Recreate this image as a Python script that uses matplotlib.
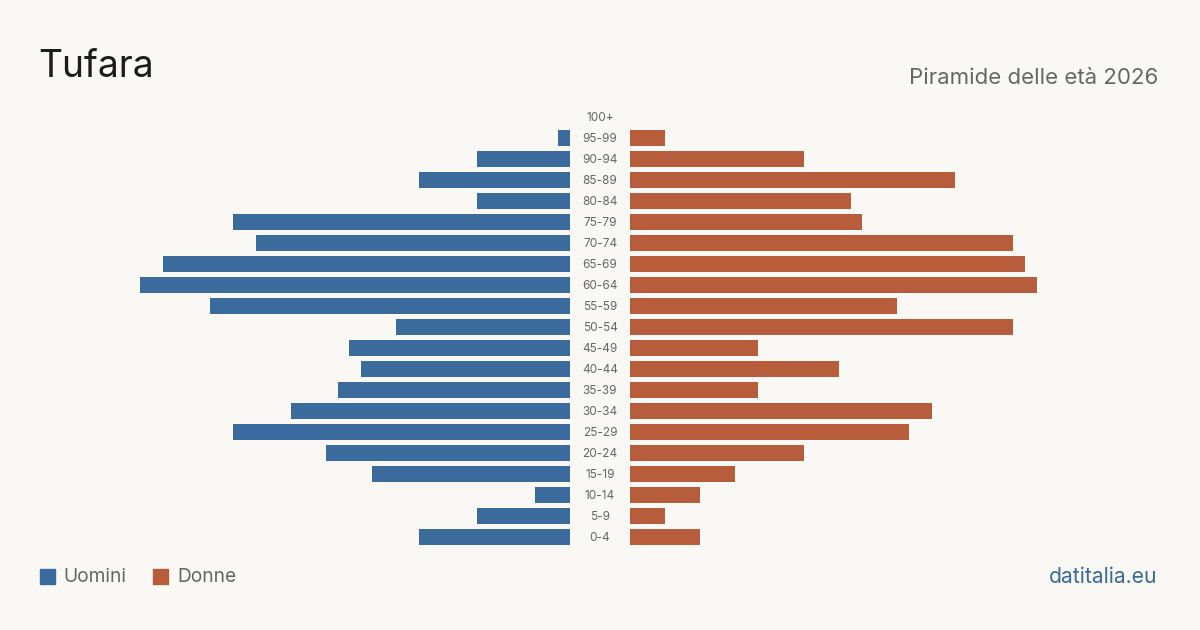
import matplotlib
matplotlib.use("Agg")
import matplotlib.pyplot as plt
from matplotlib.patches import Rectangle

# age groups from youngest to oldest
age_groups = ["0-4", "5-9", "10-14", "15-19", "20-24", "25-29", "30-34", "35-39",
              "40-44", "45-49", "50-54", "55-59", "60-64", "65-69", "70-74",
              "75-79", "80-84", "85-89", "90-94", "95-99", "100+"]
uomini = [13, 8, 3, 17, 21, 29, 24, 20, 18, 19, 15, 31, 37, 35, 27, 29, 8, 13, 8, 1, 0]
donne = [6, 3, 6, 9, 15, 24, 26, 11, 18, 11, 33, 23, 35, 34, 33, 20, 19, 28, 15, 3, 0]

BG = "#f9f8f4"
BLUE = "#3a6b9c"
ORANGE = "#b85d3c"
GRAY = "#666666"

plt.rcParams['font.family'] = ['Inter', 'DejaVu Sans']

fig = plt.figure(figsize=(12, 6.3), dpi=100)
fig.patch.set_facecolor(BG)
ax = fig.add_axes([0, 0, 1, 1])
ax.set_facecolor(BG)

px = 11.62  # pixels per person
gap = 30 / px
ax.set_xlim(-600 / px, 600 / px)
ax.set_ylim(-93 / 21, (630 - 93) / 21)
ax.axis("off")

y = list(range(len(age_groups)))
ax.barh(y, [-v for v in uomini], left=-gap, height=0.78, color=BLUE)
ax.barh(y, donne, left=gap, height=0.78, color=ORANGE)
for i, lab in enumerate(age_groups):
    ax.text(0, i - 0.06, lab, ha="center", va="center", fontsize=8.5, color=GRAY)

fig.text(38 / 1200, 1 - 67 / 630, "Tufara", fontsize=26.8, color="#1c1c1c",
         ha="left", va="center")
fig.text(1158 / 1200, 1 - 78 / 630, "Piramide delle età 2026", fontsize=16,
         color=GRAY, ha="right", va="center")

# legend
fig.patches.append(Rectangle((40 / 1200, 1 - 584 / 630), 15 / 1200, 15 / 630,
                             transform=fig.transFigure, color=BLUE))
fig.text(63 / 1200, 1 - 577 / 630, "Uomini", fontsize=13.8, color=GRAY,
         ha="left", va="center")
fig.patches.append(Rectangle((153 / 1200, 1 - 584 / 630), 15 / 1200, 15 / 630,
                             transform=fig.transFigure, color=ORANGE))
fig.text(177 / 1200, 1 - 577 / 630, "Donne", fontsize=13.8, color=GRAY,
         ha="left", va="center")
fig.text(1157 / 1200, 1 - 577 / 630, "datitalia.eu", fontsize=15.2, color=BLUE,
         ha="right", va="center")

fig.savefig("out.png", dpi=100, facecolor=BG)
